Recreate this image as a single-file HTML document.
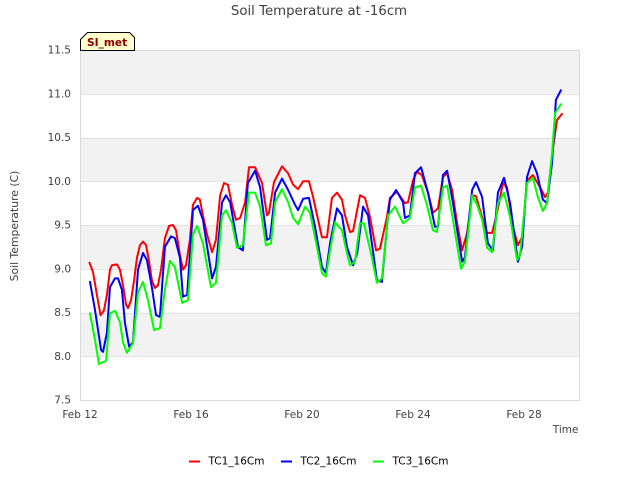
<!DOCTYPE html>
<html>
<head>
<meta charset="utf-8">
<title>Soil Temperature at -16cm</title>
<style>
html,body{margin:0;padding:0;background:#fff;width:640px;height:480px;overflow:hidden}
svg{display:block}
text{font-family:"DejaVu Sans","Liberation Sans",sans-serif}
</style>
</head>
<body>
<svg id="chart" xmlns="http://www.w3.org/2000/svg" width="640" height="480" viewBox="0 0 640 480">
  <text x="319" y="15" text-anchor="middle" font-size="13.3" fill="#404040">Soil Temperature at -16cm</text>
  <g id="bands"></g>
  <g id="grid"></g>
  <rect x="80.5" y="50.5" width="499" height="350" fill="none" stroke="#d9d9d9" stroke-width="1"></rect>
  <g id="yticks"></g>
  <g id="xticks"></g>
  <g id="series"></g>
  <text x="0" y="0" transform="translate(18,226) rotate(-90)" text-anchor="middle" font-size="10.8" fill="#404040">Soil Temperature (C)</text>
  <text x="578.5" y="433" text-anchor="end" font-size="10.5" fill="#404040">Time</text>
  <g>
    <polygon points="80.5,50.5 80.5,39.5 87.5,32.5 129.5,32.5 134.5,37.5 134.5,50.5" fill="#ffffcc" stroke="#000" stroke-width="1"></polygon>
    <text x="87" y="46" font-size="10.6" font-weight="bold" fill="#8b0000">SI_met</text>
  </g>
  <g>
    <line x1="189" x2="200" y1="461.5" y2="461.5" stroke="#ff0000" stroke-width="2"></line>
    <text x="208.5" y="464.5" font-size="10.5" fill="#000">TC1_16Cm</text>
    <line x1="281" x2="292" y1="461.5" y2="461.5" stroke="#0000ff" stroke-width="2"></line>
    <text x="300.5" y="464.5" font-size="10.5" fill="#000">TC2_16Cm</text>
    <line x1="373" x2="384" y1="461.5" y2="461.5" stroke="#00ff00" stroke-width="2"></line>
    <text x="392.5" y="464.5" font-size="10.5" fill="#000">TC3_16Cm</text>
  </g>
</svg>
<script>
const xTickDays = [12, 16, 20, 24, 28];
const xTickLabels = ["Feb 12", "Feb 16", "Feb 20", "Feb 24", "Feb 28"];
const yTickValues = [7.5, 8.0, 8.5, 9.0, 9.5, 10.0, 10.5, 11.0, 11.5];
const yTickLabels = ["7.5", "8.0", "8.5", "9.0", "9.5", "10.0", "10.5", "11.0", "11.5"];

const tc1Days = [12.34,12.47,12.61,12.74,12.86,12.97,13.08,13.15,13.33,13.44,13.55,13.66,13.73,13.84,13.95,14.05,14.16,14.27,14.38,14.49,14.59,14.70,14.81,14.92,15.06,15.21,15.35,15.46,15.60,15.71,15.82,15.96,16.07,16.22,16.32,16.43,16.58,16.76,16.90,17.05,17.19,17.33,17.48,17.62,17.77,17.95,18.09,18.31,18.56,18.74,18.81,18.99,19.28,19.50,19.68,19.86,20.04,20.25,20.40,20.58,20.72,20.90,21.08,21.26,21.44,21.55,21.73,21.84,22.09,22.27,22.45,22.67,22.81,23.06,23.17,23.42,23.71,23.82,24.00,24.14,24.32,24.54,24.72,24.90,25.08,25.23,25.41,25.59,25.77,25.95,26.13,26.27,26.49,26.67,26.85,27.03,27.24,27.39,27.60,27.78,27.93,28.11,28.32,28.58,28.76,28.86,29.05,29.19,29.37];
const tc1Values = [9.07,8.96,8.70,8.47,8.52,8.70,8.99,9.04,9.05,8.99,8.81,8.59,8.55,8.64,8.87,9.12,9.27,9.31,9.27,9.08,8.87,8.78,8.81,8.99,9.35,9.49,9.50,9.44,9.16,8.99,9.04,9.33,9.73,9.81,9.79,9.61,9.39,9.19,9.33,9.84,9.98,9.96,9.73,9.56,9.58,9.76,10.16,10.16,9.98,9.61,9.64,9.99,10.17,10.09,9.96,9.91,10.00,10.00,9.82,9.56,9.36,9.36,9.81,9.87,9.79,9.61,9.42,9.43,9.84,9.81,9.59,9.21,9.23,9.59,9.81,9.88,9.75,9.76,10.01,10.11,10.07,9.87,9.64,9.69,10.05,10.09,9.90,9.52,9.21,9.41,9.84,9.83,9.59,9.41,9.41,9.64,9.98,9.93,9.48,9.27,9.36,10.01,10.07,9.93,9.82,9.87,10.39,10.70,10.77];

const tc2Days = [12.36,12.54,12.76,12.83,12.97,13.08,13.26,13.37,13.51,13.62,13.77,13.91,14.09,14.27,14.41,14.59,14.74,14.88,15.06,15.28,15.42,15.60,15.71,15.86,16.07,16.25,16.43,16.76,16.90,17.12,17.26,17.41,17.69,17.87,18.05,18.31,18.49,18.74,18.85,19.03,19.28,19.50,19.75,19.86,20.04,20.25,20.47,20.72,20.86,21.01,21.26,21.44,21.62,21.84,21.99,22.20,22.38,22.70,22.88,23.06,23.17,23.39,23.64,23.71,23.89,24.07,24.29,24.54,24.79,24.90,25.08,25.23,25.44,25.77,25.87,26.13,26.27,26.49,26.70,26.88,27.06,27.28,27.50,27.78,27.93,28.11,28.29,28.47,28.68,28.83,29.01,29.15,29.33];
const tc2Values = [8.85,8.53,8.07,8.05,8.27,8.79,8.89,8.89,8.76,8.38,8.11,8.16,8.99,9.18,9.10,8.79,8.47,8.45,9.25,9.37,9.35,9.13,8.68,8.70,9.67,9.72,9.56,8.89,9.02,9.76,9.84,9.76,9.25,9.21,9.98,10.12,9.93,9.33,9.35,9.87,10.03,9.90,9.73,9.67,9.80,9.81,9.48,9.02,8.95,9.29,9.69,9.61,9.25,9.04,9.18,9.71,9.61,8.87,8.85,9.48,9.79,9.90,9.76,9.58,9.61,10.09,10.16,9.87,9.48,9.48,10.07,10.12,9.75,9.08,9.13,9.90,9.99,9.82,9.29,9.21,9.87,10.04,9.75,9.08,9.25,10.05,10.23,10.09,9.79,9.75,10.21,10.93,11.04];

const tc3Days = [12.36,12.54,12.68,12.94,13.08,13.26,13.44,13.55,13.69,13.91,14.09,14.27,14.45,14.67,14.88,15.06,15.24,15.42,15.68,15.89,16.07,16.22,16.43,16.72,16.90,17.12,17.26,17.48,17.66,17.87,18.09,18.31,18.49,18.70,18.88,19.03,19.28,19.50,19.68,19.86,20.11,20.29,20.54,20.72,20.86,21.01,21.19,21.44,21.62,21.73,21.91,22.09,22.23,22.52,22.70,22.88,23.10,23.35,23.64,23.89,24.07,24.29,24.50,24.72,24.86,25.08,25.23,25.44,25.73,25.87,26.13,26.31,26.49,26.67,26.85,27.06,27.28,27.50,27.75,27.86,28.11,28.32,28.50,28.68,28.83,29.01,29.12,29.33];
const tc3Values = [8.49,8.19,7.91,7.95,8.49,8.52,8.39,8.16,8.04,8.15,8.73,8.85,8.64,8.30,8.32,8.76,9.09,9.02,8.61,8.64,9.39,9.49,9.29,8.79,8.84,9.61,9.67,9.52,9.24,9.27,9.87,9.87,9.71,9.27,9.29,9.76,9.91,9.76,9.58,9.51,9.71,9.64,9.25,8.95,8.91,9.21,9.53,9.44,9.18,9.04,9.08,9.52,9.52,9.13,8.84,8.89,9.61,9.71,9.52,9.58,9.93,9.95,9.73,9.44,9.42,9.93,9.95,9.56,9.00,9.08,9.84,9.73,9.56,9.24,9.19,9.75,9.87,9.59,9.10,9.16,9.98,10.04,9.82,9.66,9.75,10.32,10.78,10.88];

const NS = "http://www.w3.org/2000/svg";
function xScale(day) { return 80 + (day - 12) * 27.75; }
function yScale(value) { return 400 - (value - 7.5) * 87.5; }
function make(tag, attrs, parentId) {
  const el = document.createElementNS(NS, tag);
  Object.keys(attrs).forEach(function (k) { el.setAttribute(k, attrs[k]); });
  document.getElementById(parentId).appendChild(el);
  return el;
}

yTickValues.forEach(function (v, i) {
  if (i < yTickValues.length - 1 && i % 2 === 1) {
    const band = make("rect", { x: 80.5, y: yScale(v + 0.5), width: 499, height: yScale(v) - yScale(v + 0.5), fill: "#f2f2f2" }, "bands");
    
    
  }
  const line = make("line", { x1: 80.5, x2: 579.5, y1: Math.round(yScale(v)) + 0.5, y2: Math.round(yScale(v)) + 0.5, stroke: "#e3e3e3", "stroke-width": 1 }, "grid");
  
  
  const label = make("text", { x: 71, y: yScale(v) + 3.5, "text-anchor": "end", "font-size": 10.5, fill: "#404040" }, "yticks");
  
  
  label.textContent = yTickLabels[i];
});

xTickDays.forEach(function (d, i) {
  const label = make("text", { x: xScale(d), y: 418, "text-anchor": "middle", "font-size": 10.5, fill: "#404040" }, "xticks");
  
  
  label.textContent = xTickLabels[i];
});

function drawSeries(days, values, color) {
  const pts = values.map(function (v, i) {
    return xScale(days[i]).toFixed(2) + "," + yScale(v).toFixed(2);
  }).join(" ");
  return make("polyline", { points: pts, fill: "none", stroke: color, "stroke-width": 2, "stroke-linejoin": "round", "stroke-linecap": "round" }, "series");
}
const tc1Line = drawSeries(tc1Days, tc1Values, "#ff0000");


const tc2Line = drawSeries(tc2Days, tc2Values, "#0000ff");


const tc3Line = drawSeries(tc3Days, tc3Values, "#00ff00");


</script>
</body>
</html>
